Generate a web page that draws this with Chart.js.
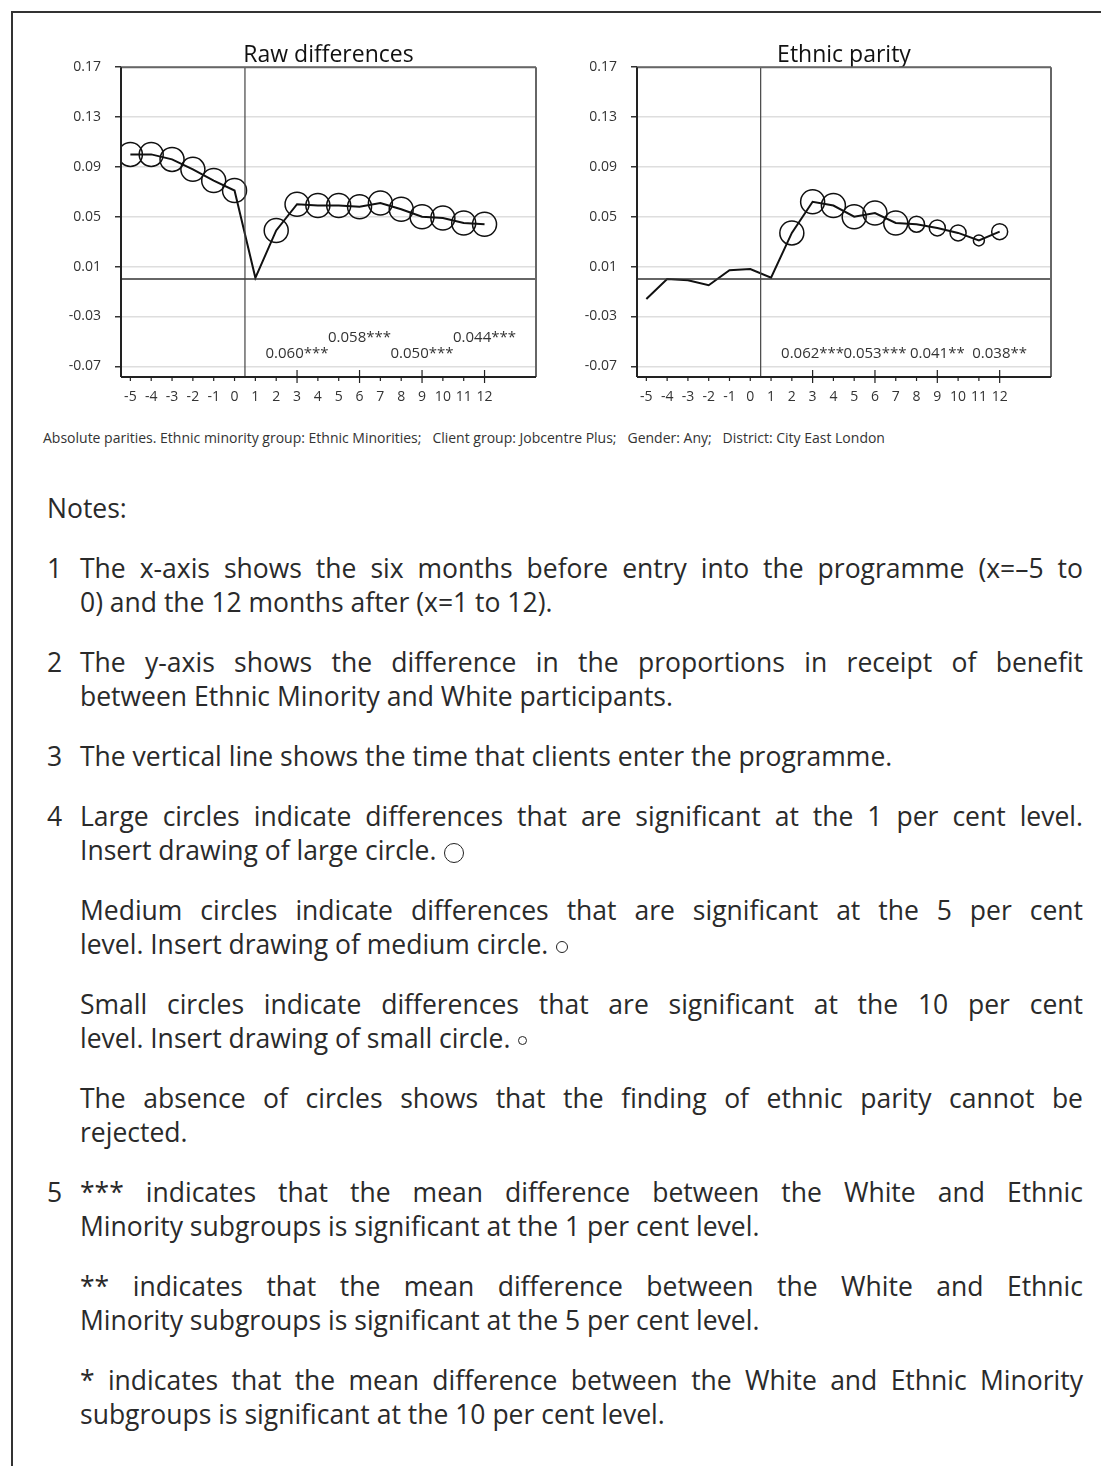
<!DOCTYPE html>
<html>
<head>
<meta charset="utf-8">
<title>Raw differences / Ethnic parity</title>
<script src="https://cdn.jsdelivr.net/npm/chart.js@4.4.1/dist/chart.umd.min.js"></script>
<style>
    body {
        margin: 0;
        width: 1101px;
        height: 1466px;
        overflow: hidden;
        background: #fff;
        position: relative;
        font-family: "Open Sans", sans-serif;
        color: #2a2a2a;
    }
    .frame {
        position: absolute;
        left: 11px;
        top: 11px;
        width: 1200px;
        height: 1600px;
        border: 2px solid #333;
    }
    canvas { position: absolute; }
    #rawChart { left: 20px; top: 30px; }
    #parityChart { left: 540px; top: 30px; }
    .caption {
        position: absolute;
        left: 43px;
        top: 429px;
        font-size: 14px;
        line-height: 18px;
        color: #333;
        white-space: pre;
    }
    .notes {
        position: absolute;
        left: 47px;
        top: 491px;
        width: 1036px;
        font-size: 26.5px;
        line-height: 34px;
    }
    .item { position: relative; margin-top: 26px; padding-left: 33px; }
    .num { position: absolute; left: 0; top: 0; }
    .ln { display: block; text-align: justify; text-align-last: justify; }
    .ln.last { text-align-last: left; }
    .circ {
        display: inline-block;
        border: 1.5px solid #222;
        border-radius: 50%;
        vertical-align: middle;
        margin-left: 8px;
    }
    .circ.l { width: 18px; height: 18px; }
    .circ.m { width: 10px; height: 10px; }
    .circ.s { width: 7px; height: 7px; }
</style>
</head>
<body>
<div class="frame"></div>
<canvas id="rawChart" width="518" height="377"></canvas>
<canvas id="parityChart" width="513" height="377"></canvas>

<div class="caption">Absolute parities. Ethnic minority group: Ethnic Minorities;   Client group: Jobcentre Plus;   Gender: Any;   District: City East London</div>

<div class="notes">
    <div>Notes:</div>
    <div class="item"><span class="num">1</span>
        <span class="ln">The x-axis shows the six months before entry into the programme (x=–5 to</span>
        <span class="ln last">0) and the 12 months after (x=1 to 12).</span>
    </div>
    <div class="item"><span class="num">2</span>
        <span class="ln">The y-axis shows the difference in the proportions in receipt of benefit</span>
        <span class="ln last">between Ethnic Minority and White participants.</span>
    </div>
    <div class="item"><span class="num">3</span>
        <span class="ln last">The vertical line shows the time that clients enter the programme.</span>
    </div>
    <div class="item"><span class="num">4</span>
        <span class="ln">Large circles indicate differences that are significant at the 1 per cent level.</span>
        <span class="ln last">Insert drawing of large circle.<span class="circ l"></span></span>
    </div>
    <div class="item">
        <span class="ln">Medium circles indicate differences that are significant at the 5 per cent</span>
        <span class="ln last">level. Insert drawing of medium circle.<span class="circ m"></span></span>
    </div>
    <div class="item">
        <span class="ln">Small circles indicate differences that are significant at the 10 per cent</span>
        <span class="ln last">level. Insert drawing of small circle.<span class="circ s"></span></span>
    </div>
    <div class="item">
        <span class="ln">The absence of circles shows that the finding of ethnic parity cannot be</span>
        <span class="ln last">rejected.</span>
    </div>
    <div class="item"><span class="num">5</span>
        <span class="ln">*** indicates that the mean difference between the White and Ethnic</span>
        <span class="ln last">Minority subgroups is significant at the 1 per cent level.</span>
    </div>
    <div class="item">
        <span class="ln">** indicates that the mean difference between the White and Ethnic</span>
        <span class="ln last">Minority subgroups is significant at the 5 per cent level.</span>
    </div>
    <div class="item">
        <span class="ln">* indicates that the mean difference between the White and Ethnic Minority</span>
        <span class="ln last">subgroups is significant at the 10 per cent level.</span>
    </div>
</div>

<script>
// Months relative to programme entry
const months = [-5, -4, -3, -2, -1, 0, 1, 2, 3, 4, 5, 6, 7, 8, 9, 10, 11, 12];
const yTicks = [0.17, 0.13, 0.09, 0.05, 0.01, -0.03, -0.07];

// Raw differences
const rawValues = [0.100, 0.100, 0.096, 0.088, 0.079, 0.071, 0.001, 0.039, 0.060, 0.059,
                   0.059, 0.058, 0.061, 0.056, 0.050, 0.049, 0.045, 0.044];
// significance level in per cent (0 = not significant)
const rawSig = [1, 1, 1, 1, 1, 1, 0, 1, 1, 1, 1, 1, 1, 1, 1, 1, 1, 1];
const rawLabelMonths = [3, 6, 9, 12];
const rawLabels = ['0.060***', '0.058***', '0.050***', '0.044***'];

// Ethnic parity
const parityValues = [-0.016, 0.000, -0.001, -0.005, 0.007, 0.008, 0.001, 0.037, 0.062, 0.059,
                      0.050, 0.053, 0.045, 0.044, 0.041, 0.037, 0.031, 0.038];
const paritySig = [0, 0, 0, 0, 0, 0, 0, 1, 1, 1, 1, 1, 1, 5, 5, 5, 10, 5];
const parityLabelMonths = [3, 6, 9, 12];
const parityLabels = ['0.062***', '0.053***', '0.041**', '0.038**'];

const entryMonth = 0.5;

Chart.defaults.font.family = '"Open Sans", sans-serif';

function radiusFor(level) {
    if (level === 1) return 12;
    if (level === 5) return 8;
    if (level === 10) return 5.5;
    return 0;
}

// zero line, entry line, frame, x tick marks and the mean labels
const decor = {
    id: 'decor',
    afterDatasetsDraw(chart, args, opts) {
        const { ctx, chartArea: a, scales: { x, y } } = chart;
        const line = (x1, y1, x2, y2) => {
            ctx.beginPath(); ctx.moveTo(x1, y1); ctx.lineTo(x2, y2); ctx.stroke();
        };
        ctx.save();
        ctx.strokeStyle = '#333';
        ctx.lineWidth = 1.5;
        const y0 = y.getPixelForValue(0);
        line(a.left, y0, a.right, y0);

        ctx.strokeStyle = '#444';
        ctx.lineWidth = 1.2;
        const xe = x.getPixelForValue(entryMonth);
        line(xe, a.top, xe, a.bottom);

        ctx.strokeStyle = '#666';
        ctx.lineWidth = 2;
        line(a.left, a.top, a.right, a.top);
        line(a.right, a.top, a.right, a.bottom);
        ctx.strokeStyle = '#222';
        line(a.left, a.top, a.left, a.bottom);
        line(a.left, a.bottom, a.right, a.bottom);

        ctx.lineWidth = 1.2;
        months.forEach(m => {
            const px = x.getPixelForValue(m);
            const major = m > 0 && m % 3 === 0;
            line(px, major ? a.bottom - 7 : a.bottom, px, a.bottom + (major ? 6 : 4));
        });

        ctx.font = '15px "Open Sans", sans-serif';
        ctx.fillStyle = '#333';
        ctx.textAlign = 'center';
        ctx.textBaseline = 'middle';
        opts.months.forEach((m, i) => {
            const up = opts.stagger && i % 2 === 1 ? 39 : 23;
            ctx.fillText(opts.labels[i], x.getPixelForValue(m), a.bottom - up);
        });
        ctx.restore();
    }
};

function makeChart(id, title, values, sig, labelMonths, labels, stagger, axisWidth) {
    new Chart(document.getElementById(id), {
        type: 'line',
        data: {
            datasets: [{
                data: months.map((m, i) => ({ x: m, y: values[i] })),
                borderColor: '#111',
                borderWidth: 2,
                tension: 0,
                pointRadius: c => radiusFor(sig[c.dataIndex]),
                pointBorderColor: '#111',
                pointBackgroundColor: 'rgba(0,0,0,0)',
                pointBorderWidth: 1.5
            }]
        },
        options: {
            responsive: false,
            animation: false,
            devicePixelRatio: 1,
            layout: { autoPadding: false, padding: { right: 2 } },
            scales: {
                x: {
                    type: 'linear',
                    min: -5.45,
                    max: 14.47,
                    grid: { display: false },
                    border: { display: false },
                    afterBuildTicks: s => { s.ticks = months.map(v => ({ value: v })); },
                    afterFit: s => { s.height = 30; },
                    ticks: {
                        autoSkip: false,
                        maxRotation: 0,
                        padding: 4,
                        color: '#333',
                        font: { size: 14 },
                        callback: v => String(v)
                    }
                },
                y: {
                    min: -0.0786,
                    max: 0.17,
                    border: { display: false },
                    grid: {
                        color: '#dedede',
                        lineWidth: 1.5,
                        drawTicks: true,
                        tickLength: 6,
                        tickColor: '#333'
                    },
                    afterBuildTicks: s => { s.ticks = yTicks.map(v => ({ value: v })); },
                    afterFit: s => { s.width = axisWidth; },
                    ticks: {
                        padding: 14,
                        color: '#333',
                        font: { size: 14 },
                        callback: v => v.toFixed(2)
                    }
                }
            },
            plugins: {
                legend: { display: false },
                tooltip: { enabled: false },
                title: {
                    display: true,
                    text: title,
                    fullSize: false,
                    color: '#111',
                    font: { size: 23, weight: 'normal', lineHeight: 1.05 },
                    padding: { top: 13, bottom: 0 }
                },
                decor: { months: labelMonths, labels: labels, stagger: stagger }
            }
        },
        plugins: [decor]
    });
}

makeChart('rawChart', 'Raw differences', rawValues, rawSig, rawLabelMonths, rawLabels, true, 101);
makeChart('parityChart', 'Ethnic parity', parityValues, paritySig, parityLabelMonths, parityLabels, false, 97);
</script>
</body>
</html>
